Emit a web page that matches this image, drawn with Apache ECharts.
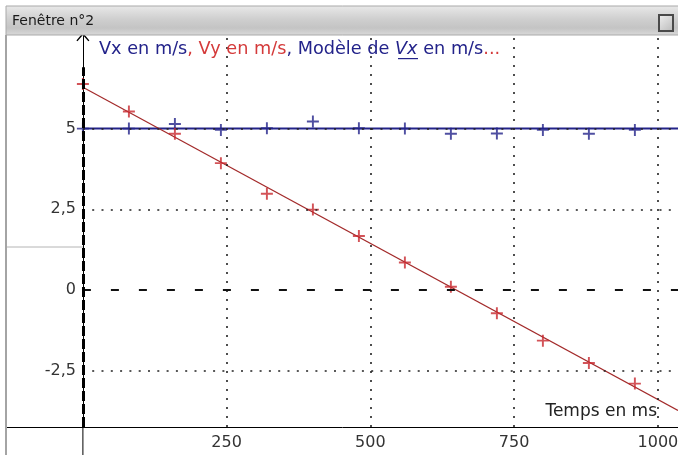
<!DOCTYPE html>
<html>
<head>
<meta charset="utf-8">
<script src="https://cdn.jsdelivr.net/npm/echarts@6/dist/echarts.min.js"></script>
<style>
html,body{margin:0;padding:0;background:#fff;}
#c{width:678px;height:455px;}
</style>
</head>
<body>
<div id="c"></div>
<script>
// ---- data ----
const timeMs = [0, 80, 160, 240, 320, 400, 480, 560, 640, 720, 800, 880, 960];
const vx = [5.0, 5.0, 5.14, 4.96, 5.01, 5.22, 5.01, 5.0, 4.84, 4.85, 4.96, 4.84, 4.96];
const vy = [6.38, 5.53, 4.84, 3.93, 2.98, 2.49, 1.67, 0.85, 0.10, -0.72, -1.57, -2.26, -2.90];
const modelT = [0, 1035];
const vxModel = [5.0, 5.0];
const vyModel = [6.28, -3.73];
const xTicks = [250, 500, 750, 1000];
const yTicks = [-2.5, 0, 2.5, 5];
const xDotted = [250, 500, 750, 1000];
const yDotted = [-2.5, 2.5, 5];

const FONT = '"DejaVu Sans", Verdana, sans-serif';
const BLUE = '#23238a';
const RED = '#c8282e';
const X_MIN = -132, X_MAX = 1035, Y_MIN = -4.245, Y_MAX = 7.9;
const GRID_LEFT = 7;

const plus = 'path://M4.2,0h1.6v4.2h4.2v1.6h-4.2v4.2h-1.6v-4.2h-4.2v-1.6h4.2z';
const chevron = 'path://M0,0L6,7.2L5,8L0,2.2L-5,8L-6,7.2Z';

const zip = (a, b) => a.map((v, i) => [v, b[i]]);

const markData = [];
xDotted.forEach(v => markData.push({xAxis: v, lineStyle: {type: [2, 7], color: '#222', width: 1.6}}));
yDotted.forEach(v => markData.push([{coord: [0, v]}, {coord: [X_MAX, v], lineStyle: {type: [2, 7.3], color: '#222', width: 1.6}}]));
markData.push([{coord: [0, 0]}, {coord: [X_MAX, 0], lineStyle: {type: [8, 20], color: '#111', width: 2}}]);
markData.push([{coord: [0, Y_MIN]}, {coord: [0, 6.9], lineStyle: {type: [10, 3], color: '#000', width: 3}}]);

const chart = echarts.init(document.getElementById('c'), null, {renderer: 'canvas'});
const option = {
  animation: false,
  backgroundColor: '#fff',
  title: {
    text: '{b|Vx en m/s}{r|, Vy en m/s}{b|, Modèle de }{bi|Vx}{b| en m/s}{r|...}',
    left: 99, top: 40, padding: 0,
    textStyle: {
      fontWeight: 'normal',
      rich: {
        b: {color: BLUE, fontSize: 17.7, fontFamily: FONT, fontWeight: 'normal'},
        r: {color: '#d43a3a', fontSize: 17.7, fontFamily: FONT, fontWeight: 'normal'},
        bi: {color: BLUE, fontSize: 17.7, fontFamily: FONT, fontStyle: 'italic', fontWeight: 'normal'}
      }
    }
  },
  grid: {left: GRID_LEFT, right: 0, top: 35, bottom: 28, containLabel: false, outerBoundsMode: 'none'},
  xAxis: {
    type: 'value', min: X_MIN, max: X_MAX,
    axisLine: {onZero: false, lineStyle: {color: '#000', width: 1}},
    axisTick: {show: false},
    splitLine: {show: false},
    axisLabel: {customValues: xTicks, color: '#333', fontSize: 16, fontFamily: FONT, margin: 8,
      formatter: v => String(v)},
    name: 'Temps en ms', nameLocation: 'end', nameGap: -21,
    nameTextStyle: {align: 'right', verticalAlign: 'bottom', padding: [0, 0, 7, 0], fontSize: 17, color: '#222', fontFamily: FONT}
  },
  yAxis: {
    type: 'value', min: Y_MIN, max: Y_MAX, offset: 0,
    axisLine: {onZero: false, lineStyle: {color: '#000', width: 1}, symbol: ['none', chevron], symbolSize: [13, 10], symbolOffset: [0, -2]},
    axisTick: {show: false},
    splitLine: {show: false},
    axisLabel: {customValues: yTicks, color: '#333', fontSize: 16, fontFamily: FONT, margin: 7,
      formatter: v => String(v).replace('.', ',')}
  },
  series: [
    {type: 'line', data: [], z: 1, silent: true,
      markLine: {silent: true, symbol: 'none', label: {show: false}, animation: false, data: markData}},
    {type: 'line', name: 'Modèle de Vx', data: zip(modelT, vxModel), symbol: 'none', z: 3,
      lineStyle: {color: BLUE, width: 2}},
    {type: 'line', name: 'Modèle de Vy', data: zip(modelT, vyModel), symbol: 'none', z: 3,
      lineStyle: {color: '#a32a2a', width: 1.2}},
    {type: 'scatter', name: 'Vx en m/s', data: zip(timeMs, vx), symbol: plus, symbolSize: 12, z: 4,
      itemStyle: {color: BLUE}},
    {type: 'scatter', name: 'Vy en m/s', data: zip(timeMs, vy), symbol: plus, symbolSize: 12, z: 4,
      itemStyle: {color: RED}}
  ]
};
chart.setOption(option);

// place the y axis on t = 0, using the x scale
const x0 = chart.convertToPixel({xAxisIndex: 0}, 0);
const yBottom = chart.convertToPixel({yAxisIndex: 0}, Y_MIN);
chart.setOption({
  yAxis: {offset: -(x0 - GRID_LEFT)},
  graphic: [
    {type: 'rect', shape: {x: 6, y: 6, width: 680, height: 29}, z: 10,
      style: {fill: new echarts.graphic.LinearGradient(0, 0, 0, 1, [
        {offset: 0, color: '#e9e9e9'}, {offset: 0.45, color: '#cfcfcf'}, {offset: 0.75, color: '#c4c4c4'}, {offset: 1, color: '#dadada'}]),
        stroke: '#a9a9a9', lineWidth: 1}},
    {type: 'text', x: 12, y: 21, z: 11,
      style: {text: 'Fenêtre n°2', fill: '#1a1a1a', font: '14px ' + FONT, textVerticalAlign: 'middle'}},
    {type: 'rect', shape: {x: 659, y: 15, width: 14, height: 16}, z: 11,
      style: {fill: new echarts.graphic.LinearGradient(0, 0, 1, 1, [
        {offset: 0, color: '#f2f2f2'}, {offset: 1, color: '#b8b8b8'}]), stroke: '#4a4a4a', lineWidth: 2}},
    {type: 'rect', shape: {x: 5, y: 35, width: 2, height: 420}, z: 10, style: {fill: '#a4a4a4'}},
    {type: 'line', shape: {x1: 7, y1: 247, x2: x0, y2: 247}, z: 10, style: {stroke: '#b4b4b4', lineWidth: 1}},
    {type: 'line', shape: {x1: x0, y1: yBottom, x2: x0, y2: 455}, z: 10, style: {stroke: '#000', lineWidth: 1}},
    {type: 'rect', shape: {x: 398, y: 58, width: 20, height: 1.2}, z: 10, style: {fill: BLUE}}
  ]
});
</script>
</body>
</html>
